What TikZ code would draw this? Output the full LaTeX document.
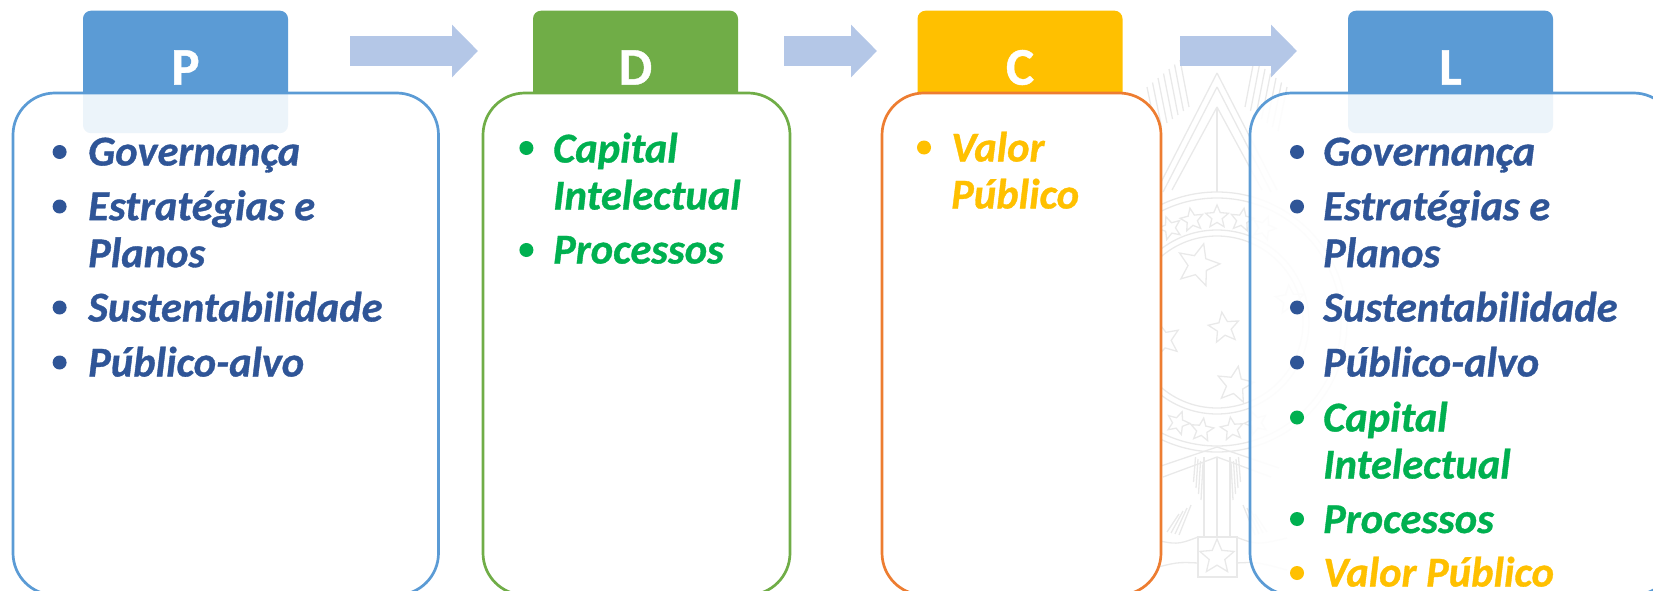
\documentclass[tikz,border=0pt]{standalone}
\usepackage{fontspec}
\setmainfont{Carlito}[BoldFeatures={FakeBold=0.8},BoldItalicFeatures={FakeBold=0.8}]
\usetikzlibrary{arrows.meta,shapes.geometric}
\definecolor{azul}{HTML}{5B9BD5}
\definecolor{verde}{HTML}{70AD47}
\definecolor{amarelo}{HTML}{FFC000}
\definecolor{laranja}{HTML}{ED7D31}
\definecolor{corseta}{HTML}{B4C7E7}
\definecolor{azultxt}{HTML}{2F5597}
\definecolor{verdetxt}{HTML}{00B050}
\definecolor{brasao}{HTML}{E9E9E9}
\tikzset{
  header/.style={rectangle, rounded corners=8pt, inner sep=0pt, minimum width=205pt, anchor=north,
    text height=74pt, text depth=48.5pt, text=white, font=\bfseries\fontsize{53}{53}\selectfont},
  boxsolid/.style={rectangle, rounded corners=42pt, inner sep=0pt, outer sep=0pt, line width=2.7pt, fill=white, anchor=north west, minimum height=502pt},
  boxfade/.style={boxsolid, fill opacity=.89},
  item/.style={anchor=base west, inner sep=0pt, yshift=-1.5pt, align=left, font=\bfseries\itshape\fontsize{42.5}{47}\selectfont},
  dot/.style={circle, inner sep=0pt, minimum size=14pt, yshift=-1pt},
  seta/.style={draw=corseta, line width=30pt, -{Triangle[length=26pt,width=51pt]}},
  emblemstar/.style={star, star points=5, star point ratio=2.2, draw=brasao, inner sep=0pt},
}
\begin{document}
\begin{tikzpicture}[x=1pt,y=-1pt]
\useasboundingbox (0,0) rectangle (1653,591);
\clip (0,0) rectangle (1653,591);
% brasao
\begin{scope}[draw=brasao, line width=1.3pt]
\foreach \m in {-1,1}{
  \foreach \k in {0,...,6}
    \draw ({1217+\m*(37+5.5*\k)},{60+4.5*\k}) -- ({1217+\m*(28+5.5*\k)},{107+4*\k});
  \draw (1217,73) -- ({1217+\m*60},190);
  \draw (1217,87) -- ({1217+\m*54},192);
  \draw (1217,107) -- ({1217+\m*45},190);
  \draw (1217,457) -- ({1217+\m*54},477);
  \draw (1217,447) -- ({1217+\m*62},468);
  \draw ({1217+\m*13},457) -- ({1217+\m*13},537);
  \draw ({1217+\m*19},537) .. controls ({1217+\m*40},545) .. ({1217+\m*70},538);
  \draw ({1217+\m*19},563) .. controls ({1217+\m*40},562) .. ({1217+\m*70},570);
  \foreach \k in {0,...,3}
    \draw ({1217+\m*(14+2.5*\k)},{463-2*\k}) -- ({1217+\m*(16+2.5*\k)},{500-6*\k});
  \foreach \k in {0,...,3}
    \draw ({1217+\m*(26+4*\k)},{505+3*\k}) -- ({1217+\m*(38+4*\k)},{535-1*\k});
}
\draw (1217,107) -- (1217,192);
\draw (1217,457) -- (1217,537);
\draw (1217,322) circle [radius=130];
\draw (1217,322) circle [radius=124];
\draw (1217,322) circle [radius=92];
\draw (1217,322) circle [radius=86];
\draw (1198,537) rectangle (1237,577);
\foreach \sx/\sy/\ss/\sa [count=\si] in {1217/217/24/0, 1192/220/24/10, 1242/220/24/-10, 1170/228/24/20, 1264/228/24/-20,
    1178/423/24/-20, 1202/430/24/-8, 1232/429/24/8, 1256/423/24/20,
    1198/265/44/-15, 1224/328/32/8, 1235/385/38/-10, 1163/340/36/15, 1290/300/30/5, 1217/557/36/0}
  \node[emblemstar, minimum size=\ss pt, rotate=\sa] (estrela\si) at (\sx,\sy) {};
\end{scope}
% cabecalhos
\node[header, fill=azul] (hP) at (185.5,10.5) {P};
\node[header, fill=verde] (hD) at (635.5,10.5) {D};
\node[header, fill=amarelo] (hC) at (1020,10.5) {C};
\node[header, fill=azul] (hL) at (1450.5,10.5) {L};
% caixas
\node[boxfade, draw=azul, minimum width=425.5pt] (bP) at (13,93) {};
\node[boxsolid, draw=verde, minimum width=307pt] (bD) at (483,93) {};
\node[boxsolid, draw=laranja, minimum width=279pt] (bC) at (882,93) {};
\node[boxfade, draw=azul, minimum width=425.5pt] (bL) at (1250,93) {};
% setas
\coordinate (s1a) at (350,51);
\coordinate (s1b) at (478,51);
\coordinate (s2a) at (784,51);
\coordinate (s2b) at (877,51);
\coordinate (s3a) at (1180,51);
\coordinate (s3b) at (1297,51);
\draw[seta] (s1a) -- (s1b);
\draw[seta] (s2a) -- (s2b);
\draw[seta] (s3a) -- (s3b);
% P
\node[dot, fill=azultxt] (dP1) at (59.6,151) {};
\node[item, text=azultxt] (tP1) at (88,164) {Governança};
\node[dot, fill=azultxt] (dP2) at (59.6,205.5) {};
\node[item, text=azultxt] (tP2) at (88,265.7) {Estratégias e\\Planos};
\node[dot, fill=azultxt] (dP3) at (59.6,306.5) {};
\node[item, text=azultxt] (tP3) at (88,320) {Sustentabilidade};
\node[dot, fill=azultxt] (dP4) at (59.6,361.5) {};
\node[item, text=azultxt] (tP4) at (88,375) {Público-alvo};
% D
\node[dot, fill=verdetxt] (dD1) at (526.4,147) {};
\node[item, text=verdetxt] (tD1) at (553,208) {Capital\\Intelectual};
\node[dot, fill=verdetxt] (dD2) at (526.4,249) {};
\node[item, text=verdetxt] (tD2) at (553,262) {Processos};
% C
\node[dot, fill=amarelo] (dC1) at (924,146.5) {};
\node[item, text=amarelo] (tC1) at (951,207) {Valor\\Público};
% L
\node[dot, fill=azultxt] (dL1) at (1297,151) {};
\node[item, text=azultxt] (tL1) at (1323,164) {Governança};
\node[dot, fill=azultxt] (dL2) at (1297,205.5) {};
\node[item, text=azultxt] (tL2) at (1323,265.7) {Estratégias e\\Planos};
\node[dot, fill=azultxt] (dL3) at (1297,306.5) {};
\node[item, text=azultxt] (tL3) at (1323,320) {Sustentabilidade};
\node[dot, fill=azultxt] (dL4) at (1297,361.5) {};
\node[item, text=azultxt] (tL4) at (1323,375) {Público-alvo};
\node[dot, fill=verdetxt] (dL5) at (1297,416.5) {};
\node[item, text=verdetxt] (tL5) at (1323,477) {Capital\\Intelectual};
\node[dot, fill=verdetxt] (dL6) at (1297,518) {};
\node[item, text=verdetxt] (tL6) at (1323,531.5) {Processos};
\node[dot, fill=amarelo] (dL7) at (1297,572) {};
\node[item, text=amarelo] (tL7) at (1323,585) {Valor Público};
\end{tikzpicture}
\end{document}
